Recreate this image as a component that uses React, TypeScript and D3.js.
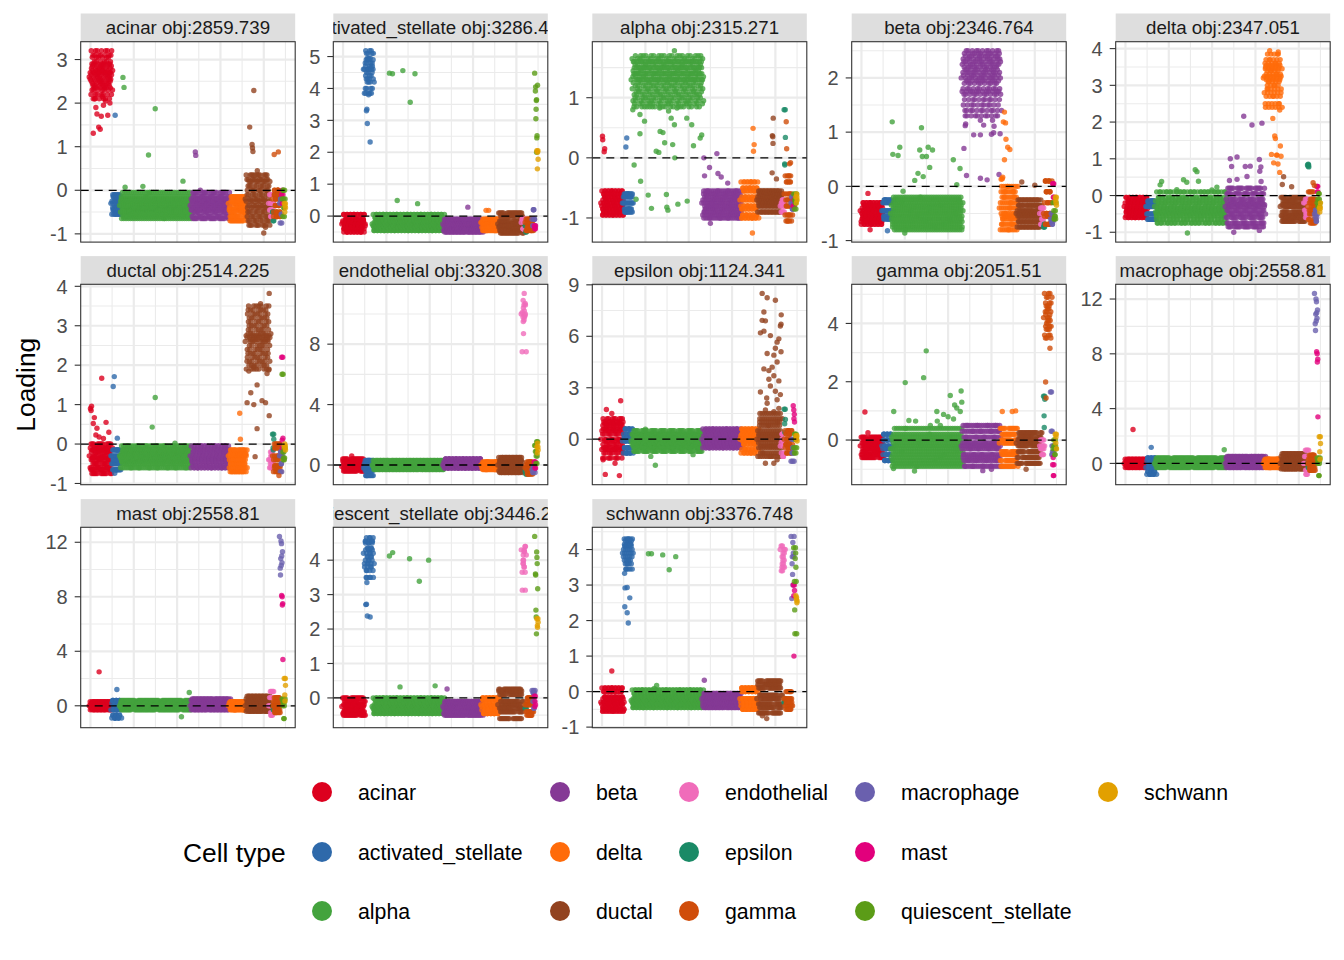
import * as d3 from "d3";

// ---------------------------------------------------------------------------
// Data
// ---------------------------------------------------------------------------

const TYPES = [
  "acinar", "activated_stellate", "alpha", "beta", "delta", "ductal",
  "endothelial", "epsilon", "gamma", "macrophage", "mast",
  "quiescent_stellate", "schwann",
];
const COLORS = [
  "#DC001E", "#2E69AA", "#43A33D", "#853995", "#FF6B0A", "#92421F",
  "#F06CBA", "#1A8A66", "#D04D0A", "#6A60AE", "#E2007C", "#5B9C17", "#E2A000",
];
// cells per type, in plotting order along the x axis
const COUNTS = [100, 40, 326, 176, 78, 108, 14, 4, 30, 8, 4, 8, 4];

const FACET_OBJ = [
  "2859.739", "3286.436", "2315.271", "2346.764", "2347.051", "2514.225",
  "3320.308", "1124.341", "2051.51", "2558.81", "2558.81", "3446.215", "3376.748",
];
const Y_TICKS = [
  [-1, 0, 1, 2, 3], [0, 1, 2, 3, 4, 5], [-1, 0, 1], [-1, 0, 1, 2],
  [-1, 0, 1, 2, 3, 4], [-1, 0, 1, 2, 3, 4], [0, 4, 8], [0, 3, 6, 9],
  [0, 2, 4], [0, 4, 8, 12], [0, 4, 8, 12], [0, 1, 2, 3, 4], [-1, 0, 1, 2, 3, 4],
];

// bulk loadings per cell type (one list per type), and single cells as [type, cell, loading]
const CORE_ACINAR = [
  [2.6, 2.9, 2.3, 2.75, 3.05, 2.45, 2.85, 2.2, 2.65, 3.2, 2.5, 2.8, 2.35, 2.95, 2.7, 2.55, 3.1, 2.4, 2.1, 2.7],
  [-0.3, -0.45, -0.15, -0.55, -0.25, -0.4, -0.1],
  [-0.35, -0.5, -0.2, -0.4, -0.6, -0.3, -0.45, -0.15, -0.55, -0.25, -0.65, -0.05, -0.4],
  [-0.35, -0.5, -0.2, -0.45, -0.3, -0.6, -0.25, -0.4, -0.15, -0.65, -0.05],
  [-0.3, -0.5, -0.15, -0.4, -0.6, -0.25, -0.45, -0.7],
  [-0.2, -0.5, 0.1, -0.35, -0.7, 0.25, -0.1, -0.6, 0.0, -0.4, 0.35, -0.25, -0.8, 0.2],
  [-0.3, -0.6, -0.1, -0.45],
  [-0.5, -0.7],
  [-0.2, -0.5, 0.0, -0.35, -0.6, -0.1],
  [-0.3, -0.55, -0.75, -0.2],
  [-0.1, -0.3, 0.0],
  [-0.2, -0.4, -0.6, 0.0],
  [-0.3, -0.4, -0.5, -0.35],
];
const OUT_ACINAR = [
  [0, 13, 1.31], [0, 25, 1.9], [0, 30, 1.75], [0, 38, 1.45], [0, 45, 1.4], [0, 50, 1.7],
  [0, 60, 1.95], [0, 70, 2.05], [0, 80, 1.72], [0, 90, 2.0], [0, 20, 2.1], [0, 55, 2.15],
  [1, 114, 1.72],
  [2, 150, 2.59], [2, 155, 2.36], [2, 268, 0.81], [2, 299, 1.87], [2, 242, 0.09], [2, 427, 0.21], [2, 160, 0.07],
  [3, 484, 0.88], [3, 486, 0.8], [3, 507, 0.0],
  [5, 754, 2.29], [5, 735, 1.45], [5, 746, 1.05], [5, 748, 0.97], [5, 750, 0.89], [5, 770, 0.45],
  [5, 760, 0.35], [5, 808, -0.85], [5, 800, -0.98],
  [8, 848, 0.82], [8, 867, 0.88],
];

const CORE_ACT = [
  [-0.25, -0.4, -0.1, -0.3, -0.5, -0.15, -0.35, 0.05, -0.2],
  [4.6, 4.9, 4.3, 5.1, 4.5, 4.8, 4.0, 4.7, 4.4, 5.18, 3.85, 4.6, 4.2, 4.95],
  [-0.25, -0.35, -0.15, -0.4, -0.2, -0.3, -0.05, -0.45, 0.05],
  [-0.25, -0.4, -0.15, -0.45, -0.3, -0.1, -0.5],
  [-0.2, -0.35, -0.1, -0.45, -0.25],
  [-0.25, -0.45, 0.0, -0.35, -0.15, -0.53, 0.1, -0.3],
  [-0.2, -0.4, -0.1],
  [-0.3, -0.5],
  [-0.2, -0.35, -0.1, -0.45],
  [-0.1, 0.2, -0.3],
  [-0.3, -0.4, -0.35],
  [4.48, 4.1, 4.05, 3.92, 3.65, 3.62, 3.35, 3.05, 2.52, 2.45, 2.0],
  [2.05, 1.78, 1.48, 2.0],
];
const OUT_ACT = [
  [1, 108, 3.3], [1, 110, 3.35], [1, 112, 2.9], [1, 125, 2.32], [1, 118, 3.8], [1, 105, 3.85],
  [2, 214, 4.48], [2, 228, 4.46], [2, 276, 4.56], [2, 332, 4.46], [2, 310, 3.57], [2, 250, 0.49], [2, 344, 0.39],
  [3, 576, 0.28], [4, 660, 0.18], [4, 672, 0.18],
];

const CORE_ALPHA = [
  [-0.75, -0.85, -0.65, -0.9, -0.7, -0.8, -0.6, -0.95, -0.55],
  [-0.75, -0.65, -0.85, -0.6, -0.9],
  [1.3, 1.5, 1.1, 1.6, 1.25, 1.45, 0.95, 1.35, 1.7, 1.2, 1.55, 1.0, 1.4, 1.15, 1.65, 1.3, 0.9, 1.5, 1.05, 1.6, 0.85, 1.4],
  [-0.75, -0.9, -0.65, -0.8, -0.95, -0.7, -0.85, -0.6, -0.55, -1.0],
  [-0.7, -0.85, -0.55, -0.95, -0.65, -0.8, -0.5, -1.0, -0.4],
  [-0.7, -0.8, -0.6, -0.9, -0.65, -0.75, -0.55],
  [-0.8, -0.7, -0.9, -0.75],
  [0.8, 0.34, -0.1, -0.12],
  [-0.6, -0.8, -0.4, -0.95, -0.3, -0.7, -1.05],
  [-0.75, -0.85, -0.65],
  [-0.8, -0.7],
  [-0.6, -0.75, -0.85, -0.7],
  [-0.65, -0.7, -0.75, -0.6],
];
const OUT_ALPHA = [
  [0, 2, 0.36], [0, 3, 0.3], [0, 12, 0.15], [0, 10, 0.1], [1, 114, 0.33], [1, 110, 0.18],
  [2, 142, 0.8], [2, 175, 0.72], [2, 196, 0.61], [2, 220, 0.85], [2, 266, 0.83], [2, 307, 0.78],
  [2, 346, 0.83], [2, 268, 0.44], [2, 281, 0.42], [2, 319, 0.66], [2, 334, 0.55], [2, 250, 0.11],
  [2, 262, 0.09], [2, 289, 0.25], [2, 326, 0.22], [2, 336, 0.0], [2, 414, 0.55], [2, 422, 0.2],
  [2, 453, 0.33], [2, 460, 0.38], [2, 391, 0.66], [2, 175, 0.4], [2, 148, -0.12], [2, 178, -0.39],
  [2, 213, -0.62], [2, 228, -0.84], [2, 297, -0.61], [2, 299, -0.82], [2, 304, -0.87], [2, 350, -0.77],
  [2, 393, -0.72], [2, 157, -0.69], [2, 334, 1.78],
  [3, 470, 0.0], [3, 473, -0.3], [3, 535, -0.26], [3, 530, 0.07], [3, 550, -0.32], [3, 580, -0.42],
  [3, 496, -0.16], [3, 500, -1.09],
  [4, 697, 0.49], [4, 702, 0.22], [4, 699, 0.11], [4, 694, -1.25],
  [5, 790, 0.66], [5, 786, 0.37], [5, 788, 0.35], [5, 789, 0.24], [5, 785, -0.25], [5, 805, -0.35],
  [8, 850, 0.6], [8, 852, 0.15], [8, 870, -0.08], [8, 865, -0.1],
];

const CORE_BETA = [
  [-0.45, -0.6, -0.35, -0.55, -0.4, -0.65, -0.3, -0.5, -0.7],
  [-0.45, -0.3, -0.6, -0.55, -0.25],
  [-0.5, -0.35, -0.65, -0.45, -0.25, -0.7, -0.4, -0.55, -0.3, -0.6, -0.75, -0.2, -0.8],
  [2.0, 2.3, 1.7, 2.2, 1.9, 2.45, 1.6, 2.1, 1.8, 2.35, 1.5, 2.05, 1.95, 2.5, 1.75, 2.25, 1.4, 2.15, 1.3, 2.4],
  [-0.4, -0.7, -0.2, -0.55, -0.8, -0.3, -0.6, -0.1, -0.5, 0.0],
  [-0.5, -0.65, -0.35, -0.75, -0.45, -0.55, -0.25],
  [-0.5, -0.6, -0.4, -0.7],
  [-0.75, -0.7],
  [-0.5, -0.3, -0.7, -0.1, -0.55, 0.1],
  [-0.6, -0.7, -0.5, -0.65],
  [0.05, -0.2],
  [-0.3, -0.55, -0.45, -0.6],
  [-0.2, -0.35, -0.25, -0.3],
];
const OUT_BETA = [
  [0, 30, -0.13], [0, 40, -0.8], [1, 120, -0.82],
  [2, 142, 1.19], [2, 177, 0.72], [2, 169, 0.57], [2, 277, 1.08], [2, 269, 0.67], [2, 281, 0.55],
  [2, 308, 0.72], [2, 328, 0.67], [2, 300, 0.55], [2, 261, 0.24], [2, 285, 0.18], [2, 315, 0.35],
  [2, 246, 0.11], [2, 424, 0.49], [2, 455, 0.33], [2, 440, 0.03], [2, 192, -0.09], [2, 145, 0.59],
  [2, 200, -0.86],
  [3, 479, 1.12], [3, 481, 1.15], [3, 518, 0.95], [3, 549, 0.95], [3, 564, 1.13], [3, 600, 0.96],
  [3, 610, 0.99], [3, 612, 1.11], [3, 473, 0.7], [3, 485, 0.2], [3, 549, 0.15], [3, 580, 0.12],
  [3, 635, 0.22], [3, 640, 0.97], [3, 605, 1.22], [3, 549, 1.22],
  [4, 660, 1.37], [4, 655, 1.19], [4, 665, 1.17], [4, 667, 0.87], [4, 660, 0.49], [4, 675, 0.72],
  [4, 685, 0.68], [4, 645, 0.13], [4, 650, 0.14], [4, 652, 0.17],
  [5, 740, 0.08], [5, 800, 0.02],
];

const CORE_DELTA = [
  [-0.3, -0.45, -0.15, -0.35, -0.55, -0.2, -0.4, -0.05, -0.6],
  [-0.3, -0.5, -0.15, -0.65, -0.2],
  [-0.3, -0.5, -0.15, -0.4, -0.65, -0.05, -0.35, -0.55, -0.2, -0.75, 0.1, -0.45],
  [-0.3, -0.5, -0.1, -0.6, -0.2, -0.75, -0.4, 0.05, -0.85, -0.25, 0.2],
  [3.2, 3.5, 2.9, 3.7, 3.1, 3.4, 2.7, 3.6, 3.0, 3.3, 2.5, 3.85, 3.15, 3.45, 2.8, 3.55, 2.4, 3.25],
  [-0.3, -0.45, -0.15, -0.55, -0.25, -0.6, -0.05, -0.7],
  [-0.2, -0.4, -0.6, -0.1, -0.5],
  [0.83, 0.78, 0.8, 0.85],
  [-0.3, -0.5, -0.1, -0.65, -0.2, -0.75, 0.1, -0.4],
  [-0.5, -0.7, -0.6, -0.4],
  [0.25, 0.1],
  [-0.2, 0.05, -0.1, -0.3],
  [-0.35, -0.2, -0.45, -0.3],
];
const OUT_DELTA = [
  [2, 167, 0.38], [2, 160, 0.29], [2, 268, 0.43], [2, 283, 0.36], [2, 322, 0.7], [2, 330, 0.65],
  [2, 337, 0.39], [2, 237, 0.16], [2, 399, 0.15], [2, 422, 0.23], [2, 286, -1.02],
  [3, 546, 2.16], [3, 584, 1.92], [3, 630, 1.97], [3, 515, 1.05], [3, 484, 1.0], [3, 553, 0.79],
  [3, 576, 0.8], [3, 490, 0.79], [3, 618, 0.98], [3, 625, 0.78], [3, 620, 0.66], [3, 480, 0.41],
  [3, 515, 0.44], [3, 561, 0.52], [3, 626, 0.38], [3, 500, -1.0], [3, 618, -0.95],
  [4, 680, 2.1], [4, 712, 2.33], [4, 689, 1.62], [4, 692, 1.55], [4, 715, 1.35], [4, 674, 1.12],
  [4, 697, 1.1], [4, 718, 1.07], [4, 684, 0.89], [4, 704, 0.86], [4, 712, 0.63], [4, 700, 1.1],
  [4, 666, 3.94], [4, 705, 3.91],
  [5, 730, 0.51], [5, 767, 0.24], [5, 724, 0.3],
  [8, 866, 0.35], [8, 872, 0.27],
];

const CORE_DUCTAL = [
  [-0.3, -0.5, -0.1, -0.6, -0.2, -0.4, 0.0, -0.65, -0.35, -0.15, -0.75],
  [-0.3, -0.5, -0.15, -0.65, -0.4],
  [-0.3, -0.45, -0.2, -0.5, -0.35, -0.6, -0.15, -0.4, -0.25, -0.05],
  [-0.3, -0.45, -0.15, -0.55, -0.35, -0.6, -0.2, -0.4, -0.05],
  [-0.3, -0.5, -0.15, -0.6, -0.4, -0.25, -0.7],
  [2.6, 3.0, 2.3, 3.2, 2.8, 2.5, 3.4, 2.1, 2.9, 2.7, 3.1, 2.4, 3.5, 2.2, 2.75, 3.3, 1.9, 2.65, 2.0],
  [-0.4, -0.6, -0.2, -0.5, -0.3],
  [0.25, 0.12, -0.1, -0.15],
  [-0.3, -0.55, -0.1, -0.7, -0.4, 0.0, -0.6],
  [-0.3, -0.5, -0.7, -0.2],
  [2.2, 0.15, 0.1, -0.1],
  [1.77, -0.2, -0.35, -0.4, -0.1],
  [-0.05, -0.15, 0.0, -0.1],
];
const OUT_DUCTAL = [
  [0, 0, 0.9], [0, 5, 0.96], [0, 13, 0.52], [0, 18, 0.67], [0, 30, 0.4], [0, 40, 0.18],
  [0, 52, 1.67], [0, 60, 0.14], [0, 72, 0.55], [0, 85, 0.3], [0, 25, 0.23], [0, 3, 0.85],
  [1, 110, 1.71], [1, 105, 1.46], [1, 124, 0.15], [1, 112, -0.74],
  [2, 299, 1.18], [2, 285, 0.43], [2, 390, 0.02],
  [4, 689, 0.78], [4, 692, 0.12],
  [5, 825, 3.82], [5, 785, 3.56], [5, 731, 1.85], [5, 754, 1.95], [5, 769, 1.5], [5, 740, 1.3],
  [5, 754, 1.0], [5, 792, 1.1], [5, 825, 0.72], [5, 769, 0.39], [5, 723, 1.05], [5, 815, 1.79],
  [5, 823, 1.88], [5, 808, 1.05], [5, 760, -0.32],
  [8, 870, -0.8],
];

const CORE_ENDO = [
  [-0.1, 0.1, -0.3, 0.25, -0.2, 0.0, 0.4, -0.4],
  [-0.2, 0.1, -0.4, 0.3, -0.7],
  [0.0, -0.2, 0.2, -0.1, 0.3, -0.3, 0.1],
  [0.0, 0.2, -0.2, 0.4, -0.1, 0.1],
  [0.0, -0.2, 0.2, -0.3, 0.1],
  [0.0, 0.3, -0.2, 0.5, -0.4, 0.2, -0.5],
  [10.0, 10.6, 9.6, 11.36, 10.2, 9.8, 10.9, 9.5, 10.4, 8.7, 7.5, 10.1, 9.9, 10.7],
  [-0.4, -0.6],
  [-0.2, 0.0, -0.4, 0.2, -0.6],
  [-0.3, -0.1, -0.5],
  [0.2, -0.2],
  [1.3, 0.9, 0.6, 0.1, 1.55],
  [1.2, 1.0, 0.8, 1.45],
];
const OUT_ENDO = [[0, 40, 0.6]];

const CORE_EPS = [
  [0.0, 0.6, -0.5, 1.0, -0.8, 0.3, -1.1, 0.8, -0.3, 1.2, -0.6, 0.5, -0.1, 0.9],
  [-0.1, 0.3, -0.5, 0.6, -0.8, 0.1],
  [-0.1, 0.1, -0.3, 0.3, -0.4, 0.0, -0.2, 0.2, -0.5, 0.5, -0.7],
  [0.0, -0.2, 0.3, -0.4, 0.2, -0.5, 0.5, -0.1, 0.6],
  [0.0, 0.3, -0.3, 0.5, -0.6, 0.2, -0.1, 0.6, -0.8],
  [0.0, 0.5, -0.5, 1.0, -0.8, 0.3, 1.5, -0.2, 0.8, -1.0, 0.2, 1.2, -0.4],
  [-0.4, -0.8, 0.0, -1.0, -0.2, 0.3],
  [1.75, 1.15, 0.9, 0.4],
  [0.0, -0.5, 0.3, -0.8, 0.5, -0.3],
  [-1.28, -0.5, 0.0, -0.8],
  [1.95, 1.7, 1.45, 1.2, 1.0],
  [-0.5, 0.0, -0.8, 0.3],
  [0.2, -0.1, 0.0, 0.1],
];
const OUT_EPS = [
  [0, 86, 2.24], [0, 20, 1.73], [0, 15, -2.05], [0, 80, -2.12], [0, 5, -1.2], [0, 60, -1.4], [0, 45, 1.5],
  [2, 246, -1.52], [2, 225, -1.0], [2, 420, -0.9], [2, 200, 0.58],
  [5, 739, 8.5], [5, 762, 8.25], [5, 800, 8.1], [5, 747, 7.42], [5, 739, 6.93], [5, 754, 6.9],
  [5, 777, 6.04], [5, 816, 5.85], [5, 823, 6.6], [5, 808, 5.66], [5, 826, 6.7], [5, 747, 6.3],
  [5, 793, 4.9], [5, 762, 5.0], [5, 808, 4.5], [5, 747, 4.1], [5, 770, 4.0], [5, 793, 3.7],
  [5, 816, 3.4], [5, 777, 3.1], [5, 800, 2.8], [5, 731, 2.75], [5, 762, 2.1], [5, 808, 2.3],
  [5, 823, 2.6], [5, 754, 1.7], [5, 793, 1.6], [5, 816, 1.8], [5, 826, 5.1], [5, 731, 6.2],
  [5, 827, 7.25], [5, 754, -1.4], [5, 793, -1.4], [5, 808, -1.2], [5, 777, -1.0], [5, 785, 4.2],
  [5, 770, 3.5], [5, 800, 5.3], [5, 760, 2.4],
];

const CORE_GAMMA = [
  [-0.2, -0.4, 0.0, -0.5, -0.1, -0.3, 0.1, -0.6],
  [-0.2, -0.5, 0.0, -0.7, -0.3, 0.2],
  [-0.3, -0.6, 0.0, -0.8, -0.2, -0.5, 0.2, -0.9, -0.4, 0.1, -0.7, -0.1, 0.4],
  [-0.2, -0.5, 0.1, -0.7, -0.3, 0.3, -0.9, -0.1, 0.5, -0.6],
  [-0.1, -0.4, 0.2, -0.7, 0.0, -0.5, 0.4, -0.9],
  [-0.1, -0.4, 0.1, -0.6, -0.2, 0.25, -0.8, 0.0],
  [-0.2, -0.5, 0.0, -0.3],
  [1.5, 1.4, 0.83, 0.43],
  [4.2, 4.6, 3.8, 4.9, 4.0, 4.4, 3.5, 4.7, 3.9, 4.3, 5.03, 3.6, 4.1, 4.5],
  [1.65, 0.3, -0.2, -0.5, -0.4],
  [-0.85, -1.22, -0.6],
  [-0.3, -0.5, 0.0, -0.2],
  [0.2, -0.3, -0.1, 0.1],
];
const OUT_GAMMA = [
  [0, 16, 0.96], [0, 30, 0.25],
  [2, 299, 3.06], [2, 287, 2.14], [2, 202, 1.97], [2, 149, 0.98], [2, 219, 0.67], [2, 250, 0.65],
  [2, 348, 0.98], [2, 410, 1.53], [2, 460, 1.68], [2, 463, 1.3], [2, 440, 1.1], [2, 379, 0.88],
  [2, 350, 0.65], [2, 425, 0.72], [2, 364, 0.5], [2, 456, 0.98], [2, 318, 0.5], [2, 245, -1.06],
  [2, 148, -0.98], [2, 400, 0.8], [2, 430, 1.2],
  [3, 560, -1.05], [3, 600, -1.0],
  [4, 650, 0.98], [4, 696, 0.98], [4, 712, 1.0],
  [5, 760, -1.0],
  [8, 850, 1.99], [8, 852, 1.44], [8, 870, 3.15],
];

const CORE_MACRO = [
  [0.0, 0.2, -0.2, 0.3, -0.3, 0.1, -0.1],
  [-0.3, 0.2, -0.6, 0.0, -0.8, 0.4],
  [0.0, 0.3, -0.2, 0.2, -0.3, 0.1, -0.1, 0.4],
  [0.0, 0.3, -0.2, 0.4, -0.3, 0.1, 0.5],
  [0.0, 0.2, -0.3, 0.3, -0.2],
  [0.0, 0.3, -0.3, 0.5, -0.4, 0.2, 0.7],
  [0.0, 0.5, -0.5, 0.97, -0.8],
  [0.0, -0.3],
  [0.0, 0.3, -0.3, 0.6, -0.5],
  [12.41, 11.8, 11.0, 10.6, 10.2, 9.7, 11.2, 10.9, 12.0, 10.4],
  [8.15, 8.0, 7.6, 7.4, 3.4],
  [0.4, -0.89, 0.0, 0.2],
  [1.95, 1.45, 0.85, 0.3],
];
const OUT_MACRO = [[0, 35, 2.48], [1, 119, 1.17], [2, 456, 1.0]];

const CORE_MAST = [
  [0.0, 0.2, -0.2, 0.3, -0.3, 0.1, -0.1],
  [-0.3, 0.2, -0.7, 0.0, -0.9, 0.4],
  [0.0, 0.3, -0.2, 0.2, -0.3, 0.1, -0.1, 0.4],
  [0.0, 0.3, -0.2, 0.4, -0.3, 0.1, 0.5],
  [0.0, 0.2, -0.3, 0.3, -0.2],
  [0.0, 0.3, -0.3, 0.5, -0.4, 0.2, 0.7],
  [0.0, 0.6, -0.5, 1.05, -0.7],
  [0.0, -0.3],
  [0.0, 0.3, -0.3, 0.6, -0.5],
  [12.43, 11.9, 11.0, 10.5, 10.1, 9.6, 11.3, 10.8, 12.1, 10.3],
  [8.1, 8.0, 7.5, 7.4, 3.4],
  [0.5, -0.94, 0.0, 0.3],
  [2.0, 1.5, 0.8, 0.35],
];
const OUT_MAST = [[0, 40, 2.49], [1, 122, 1.2], [2, 456, 0.98], [2, 420, -0.8]];

const CORE_QUIES = [
  [-0.25, -0.4, -0.1, -0.45, -0.2, -0.35, 0.0, -0.5],
  [4.2, 4.5, 3.9, 4.65, 4.0, 4.35, 3.7, 4.55, 4.1, 3.5, 4.3, 3.8],
  [-0.25, -0.35, -0.15, -0.4, -0.2, -0.3, -0.05, -0.45, 0.0],
  [-0.25, -0.4, -0.1, -0.45, -0.3, -0.15, -0.5],
  [-0.2, -0.35, -0.05, -0.45, -0.25, 0.0],
  [-0.2, 0.1, -0.4, 0.25, -0.6, -0.1, 0.2, -0.3],
  [4.3, 4.0, 4.4, 3.8, 4.15, 3.65, 4.25, 3.9, 3.13],
  [-0.3, -0.2],
  [-0.2, -0.4, -0.1, -0.5, 0.0],
  [0.22, -0.3, -0.1, 0.15],
  [0.05, -0.2, -0.25, -0.1],
  [4.69, 4.24, 4.08, 3.9, 3.6, 3.57, 3.17, 2.55, 2.35, 1.86],
  [2.3, 2.2, 2.1, 2.05],
];
const OUT_QUIES = [
  [1, 105, 2.71], [1, 108, 2.72], [1, 112, 2.38], [1, 125, 2.35], [1, 110, 3.35],
  [2, 214, 4.12], [2, 229, 4.22], [2, 307, 4.04], [2, 395, 4.0], [2, 352, 3.39], [2, 263, 0.32], [2, 425, 0.35],
  [3, 480, 0.26],
];

const CORE_SCHW = [
  [-0.3, -0.45, -0.15, -0.5, -0.2, -0.35, 0.0, -0.55, 0.1],
  [3.9, 4.1, 3.6, 4.25, 3.8, 4.0, 3.45, 4.3, 3.7, 4.15],
  [-0.25, -0.35, -0.15, -0.4, -0.2, -0.3, -0.05, -0.45, 0.05],
  [-0.2, -0.35, -0.05, -0.4, -0.3, -0.15, -0.45],
  [-0.2, -0.4, 0.0, -0.5, -0.3, 0.1],
  [-0.2, 0.1, -0.45, 0.2, -0.6, -0.1, 0.3, -0.35],
  [4.0, 3.6, 3.9, 3.4, 3.8, 3.7, 4.1, 3.5],
  [-0.3, -0.2],
  [-0.2, -0.4, 0.0, -0.5, -0.3],
  [4.37, 4.2, 3.9, 3.6, 3.3, 3.0, 2.62, 3.8],
  [3.0, 2.85, 2.7, 1.0],
  [4.05, 3.9, 3.5, 3.1, 2.3, 1.63, 3.75],
  [2.7, 2.6, 2.5, 2.65, 2.55],
];
const OUT_SCHW = [
  [0, 45, 0.58], [1, 106, 2.92], [1, 116, 2.93], [1, 105, 2.39], [1, 116, 2.22], [1, 121, 1.93],
  [1, 128, 2.64], [1, 104, 3.33],
  [2, 214, 3.88], [2, 228, 3.88], [2, 280, 3.85], [2, 340, 3.8], [2, 310, 3.43], [2, 241, 0.09], [2, 252, 0.17],
  [3, 472, 0.32], [5, 740, -0.68], [5, 760, -0.76],
];

const CORES = [
  CORE_ACINAR, CORE_ACT, CORE_ALPHA, CORE_BETA, CORE_DELTA, CORE_DUCTAL, CORE_ENDO,
  CORE_EPS, CORE_GAMMA, CORE_MACRO, CORE_MAST, CORE_QUIES, CORE_SCHW,
];
const OUTS = [
  OUT_ACINAR, OUT_ACT, OUT_ALPHA, OUT_BETA, OUT_DELTA, OUT_DUCTAL, OUT_ENDO,
  OUT_EPS, OUT_GAMMA, OUT_MACRO, OUT_MAST, OUT_QUIES, OUT_SCHW,
];

// ---------------------------------------------------------------------------
// Layout
// ---------------------------------------------------------------------------

const FONT = "'Liberation Sans', Arial, Helvetica, sans-serif";
const COL_X = [80.7, 333.3, 592.3, 851.7, 1115.7];
const ROW_Y = [41.7, 284.3, 527.3];
const PANEL_W = 214.5;
const PANEL_H = 200.4;
const STRIP_H = 28.2;
const R = 2.7;
const DENSITY = 1.3; // drawn points per cell in the bulk of a group
const JITTER = 6; // horizontal jitter, in cells

const LEG_KEY_X = [322, 560, 689, 865, 1108];
const LEG_ROW_Y = [792, 852, 911];

const STARTS = COUNTS.map((_, i) => d3.sum(COUNTS.slice(0, i)));
const N_CELLS = d3.sum(COUNTS);

type Pt = { g: number; x: number; y: number };

const gcd = (a: number, b: number): number => (b === 0 ? a : gcd(b, a % b));

// step through a list so that neighbouring cells do not repeat a pattern
function stride(len: number) {
  for (const s of [7, 5, 11, 13, 3]) if (s < len && gcd(len, s) === 1) return s;
  return 1;
}

function buildPoints(core: number[][], out: number[][]): Pt[] {
  const pts: Pt[] = [];
  core.forEach((vals, g) => {
    const L = vals.length;
    const s = stride(L);
    const n = Math.max(Math.round(COUNTS[g] * DENSITY), L);
    const w = Math.min(JITTER, COUNTS[g] / 2);
    for (let j = 0; j < n; j++) {
      const jit = (((j * 0.6180339887) % 1) - 0.5) * 2 * w;
      pts.push({
        g,
        x: STARTS[g] + ((j + 0.5) * COUNTS[g]) / n + jit,
        y: vals[(j * s) % L],
      });
    }
  });
  out.forEach(([g, x, y]) => pts.push({ g, x, y }));
  return pts;
}

const xScale = d3
  .scaleLinear()
  .domain([-N_CELLS * 0.05, N_CELLS * 1.05])
  .range([0, PANEL_W]);
const X_MAJOR = d3.range(0, N_CELLS, 200);
const X_MINOR = d3.range(100, N_CELLS + 1, 200);

function Panel({ f }: { f: number }) {
  const col = f % 5;
  const row = Math.floor(f / 5);
  const left = COL_X[col];
  const top = ROW_Y[row];
  const pts = buildPoints(CORES[f], OUTS[f]);
  const [lo, hi] = d3.extent(pts, (d) => d.y) as [number, number];
  const pad = (hi - lo) * 0.05;
  const y = d3.scaleLinear().domain([lo - pad, hi + pad]).range([PANEL_H, 0]);
  const inRange = (t: number) => t >= lo - pad && t <= hi + pad;
  const ticks = Y_TICKS[f].filter(inRange);
  const step = Y_TICKS[f][1] - Y_TICKS[f][0];
  const minor = [Y_TICKS[f][0] - step / 2, ...Y_TICKS[f].map((t) => t + step / 2)].filter(inRange);
  const label = `${TYPES[f]} obj:${FACET_OBJ[f]}`;
  const clipId = `strip-${f}`;

  return (
    <g>
      {/* strip */}
      <clipPath id={clipId}>
        <rect x={left} y={top - STRIP_H} width={PANEL_W} height={STRIP_H} />
      </clipPath>
      <rect x={left} y={top - STRIP_H} width={PANEL_W} height={STRIP_H} fill="#DEDEDE" />
      <text
        x={left + PANEL_W / 2}
        y={top - STRIP_H / 2}
        dy="0.36em"
        textAnchor="middle"
        fontSize={18.7}
        fontFamily={FONT}
        fill="#1A1A1A"
        clipPath={`url(#${clipId})`}
      >
        {label}
      </text>

      <g transform={`translate(${left},${top})`}>
        <rect width={PANEL_W} height={PANEL_H} fill="white" />
        {/* grid */}
        {minor.map((t) => (
          <line key={`ym${t}`} x1={0} x2={PANEL_W} y1={y(t)} y2={y(t)} stroke="#EBEBEB" strokeWidth={1.1} />
        ))}
        {X_MINOR.map((t) => (
          <line key={`xm${t}`} x1={xScale(t)} x2={xScale(t)} y1={0} y2={PANEL_H} stroke="#EBEBEB" strokeWidth={1.1} />
        ))}
        {ticks.map((t) => (
          <line key={`yM${t}`} x1={0} x2={PANEL_W} y1={y(t)} y2={y(t)} stroke="#EBEBEB" strokeWidth={2.2} />
        ))}
        {X_MAJOR.map((t) => (
          <line key={`xM${t}`} x1={xScale(t)} x2={xScale(t)} y1={0} y2={PANEL_H} stroke="#EBEBEB" strokeWidth={2.2} />
        ))}

        {/* cells */}
        {pts.map((p, i) => (
          <circle key={i} cx={xScale(p.x)} cy={y(p.y)} r={R} fill={COLORS[p.g]} fillOpacity={0.8} />
        ))}

        {/* zero line */}
        <line x1={0} x2={PANEL_W} y1={y(0)} y2={y(0)} stroke="black" strokeWidth={1.3} strokeDasharray="8,6" />

        <rect width={PANEL_W} height={PANEL_H} fill="none" stroke="#333333" strokeWidth={1.1} />

        {/* y axis */}
        {ticks.map((t) => (
          <g key={`t${t}`} transform={`translate(0,${y(t)})`}>
            <line x1={-6} x2={0} stroke="#333333" strokeWidth={1.1} />
            <text x={-13} dy="0.36em" textAnchor="end" fontSize={20} fontFamily={FONT} fill="#4D4D4D">
              {t}
            </text>
          </g>
        ))}
      </g>
    </g>
  );
}

export default function App() {
  return (
    <svg
      width={1344}
      height={960}
      style={{ position: "absolute", left: 0, top: 0, display: "block", background: "white" }}
    >
      <rect width={1344} height={960} fill="white" />
      {TYPES.map((_, f) => (
        <Panel key={f} f={f} />
      ))}

      <text
        transform={`translate(25,${(ROW_Y[0] + ROW_Y[2] + PANEL_H) / 2}) rotate(-90)`}
        textAnchor="middle"
        dy="0.36em"
        fontSize={26.4}
        fontFamily={FONT}
        fill="black"
      >
        Loading
      </text>

      {/* legend */}
      <text x={183} y={LEG_ROW_Y[1]} dy="0.36em" fontSize={26.4} fontFamily={FONT} fill="black">
        Cell type
      </text>
      {TYPES.map((t, i) => {
        const c = Math.floor(i / 3);
        const r = i % 3;
        return (
          <g key={t}>
            <circle cx={LEG_KEY_X[c]} cy={LEG_ROW_Y[r]} r={10} fill={COLORS[i]} />
            <text x={LEG_KEY_X[c] + 36} y={LEG_ROW_Y[r]} dy="0.36em" fontSize={21.3} fontFamily={FONT} fill="black">
              {t}
            </text>
          </g>
        );
      })}
    </svg>
  );
}
